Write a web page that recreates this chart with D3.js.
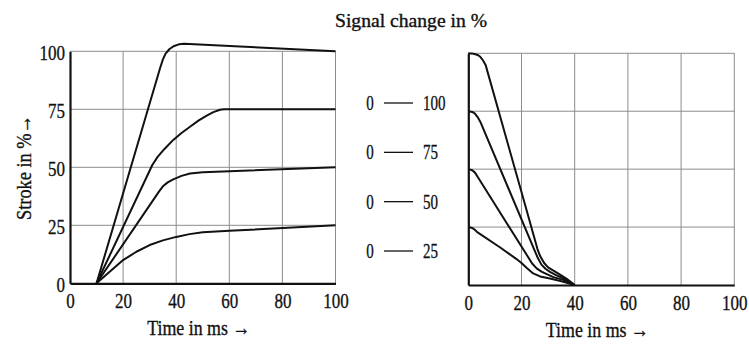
<!DOCTYPE html>
<html>
<head>
<meta charset="utf-8">
<script src="https://cdn.jsdelivr.net/npm/d3@7"></script>
<style>
  body { margin: 0; background: #fff; }
  svg text { font-family: "Liberation Serif", "DejaVu Serif", serif; fill: #111; stroke: #111; stroke-width: 0.35; }
  .grid line { stroke: #8c8c8c; stroke-width: 1; }
  .curve { fill: none; stroke: #111; stroke-width: 2; stroke-linejoin: round; }
  .axis path { stroke: #111; stroke-width: 2.2; }
</style>
</head>
<body>
<svg id="chart" width="749" height="344"></svg>
<script>
// tick values, same for both panels
var xTicks = [0, 20, 40, 60, 80, 100];
var yTicks = [0, 25, 50, 75, 100];

// stroke response (left panel): [time ms, stroke %]
var rise100 = [[10, 0], [34, 93], [35, 96.5], [36, 99], [37.5, 101], [39, 102.2], [41, 103], [43, 103.3], [64, 102.1], [100, 100]];
var rise75 = [[10, 0], [31, 51], [33, 54.5], [35.5, 57.8], [38.9, 61.8], [42, 64.8], [45.2, 67.5], [48.5, 70.2], [51.5, 72.3], [54, 73.8], [56.5, 74.8], [58, 75], [100, 75]];
var rise50 = [[10, 0], [33.5, 39.5], [35, 41.8], [36.8, 43.5], [38.9, 44.8], [42, 46.3], [45.2, 47.3], [50, 47.9], [55, 48.1], [100, 50]];
var rise25 = [[10, 0], [20, 10], [25, 13.6], [30, 16.5], [35, 18.5], [40, 20], [45, 21.2], [50, 22], [60, 22.6], [100, 25]];

// stroke response on signal drop (right panel)
var fall100 = [[0, 100], [2, 99.8], [3.5, 99.3], [4.5, 98.5], [5.5, 97], [6.5, 95], [21, 36], [26, 15.5], [27, 12.5], [28.5, 9.5], [30, 7.6], [32, 6.2], [34.5, 4.5], [37, 2.7], [40, 0]];
var fall75 = [[0, 75], [1.5, 74.7], [2.5, 74], [3.5, 72.5], [4.5, 70.5], [26, 12], [27.5, 8.8], [29, 7], [30.7, 5.7], [33, 4.3], [35.7, 2.9], [40, 0]];
var fall50 = [[0, 50], [1.5, 49.5], [2.5, 48.5], [3.5, 46.7], [24, 9.3], [25.7, 7.2], [27.5, 5.8], [29.5, 4.7], [32, 3.4], [35.7, 2.2], [40, 0]];
var fall25 = [[0, 25], [1.5, 24.6], [2.5, 23.8], [3.5, 22.7], [12, 16.2], [18, 11.3], [20, 9.5], [22, 7.3], [24.4, 5], [27, 3.7], [30.7, 2.8], [35, 1.6], [40, 0]];

// middle legend: signal change from -> to
var legendFrom = ["0", "0", "0", "0"];
var legendTo = ["100", "75", "50", "25"];

var svg = d3.select("#chart");

var digitW = 8.5;

function drawPanel(left, right, top, bottom, series, showYLabels) {
  var x = d3.scaleLinear().domain([0, 100]).range([left, right]);
  var y = d3.scaleLinear().domain([0, 100]).range([bottom, top]);

  var grid = svg.append("g").attr("class", "grid");
  grid.selectAll(".gx")
    .data(xTicks.slice(1))
    .enter()
    .append("line")
    .attr("x1", d => x(d)).attr("x2", d => x(d))
    .attr("y1", top).attr("y2", bottom);
  grid.selectAll(".gy")
    .data(yTicks.slice(1))
    .enter()
    .append("line")
    .attr("x1", left).attr("x2", right)
    .attr("y1", d => y(d)).attr("y2", d => y(d));

  var line = d3.line()
    .x(d => x(d[0]))
    .y(d => y(d[1]));

  svg.selectAll(null)
    .data(series)
    .enter()
    .append("path")
    .attr("class", "curve")
    .attr("d", line);

  var xAxis = svg.append("g")
    .attr("class", "axis")
    .attr("transform", "translate(0," + bottom + ")")
    .call(d3.axisBottom(x).tickValues(xTicks).tickSize(0).tickPadding(9));
  xAxis.selectAll("text")
    .attr("font-size", 22)
    .attr("textLength", d => String(d).length * digitW)
    .attr("lengthAdjust", "spacingAndGlyphs");

  var yAxis = svg.append("g")
    .attr("class", "axis")
    .attr("transform", "translate(" + left + ",0)")
    .call(d3.axisLeft(y).tickValues(showYLabels ? yTicks : []).tickSize(0).tickPadding(5));
  yAxis.selectAll("text")
    .attr("font-size", 22)
    .attr("dy", "0.38em")
    .attr("textLength", d => String(d).length * digitW)
    .attr("lengthAdjust", "spacingAndGlyphs");
  svg.selectAll(".axis .domain").attr("stroke", "#111");

  svg.append("text")
    .attr("x", (left + right) / 2 - 4)
    .attr("y", bottom + 52)
    .attr("text-anchor", "middle")
    .attr("font-size", 22)
    .attr("textLength", 103)
    .attr("lengthAdjust", "spacingAndGlyphs")
    .text("Time in ms \u2192");
}

drawPanel(70, 335.5, 51.3, 283.3, [rise100, rise75, rise50, rise25], true);
drawPanel(468.3, 734.3, 53.3, 285, [fall100, fall75, fall50, fall25], false);

// title
svg.append("text")
  .attr("x", 411)
  .attr("y", 27)
  .attr("text-anchor", "middle")
  .attr("font-size", 18)
  .attr("textLength", 152)
  .attr("lengthAdjust", "spacingAndGlyphs")
  .text("Signal change in %");

// y axis title
svg.append("text")
  .attr("transform", "translate(31,167.5) rotate(-90)")
  .attr("text-anchor", "middle")
  .attr("font-size", 22)
  .attr("textLength", 105)
  .attr("lengthAdjust", "spacingAndGlyphs")
  .text("Stroke in %\u2192");

// legend between panels
var legendY = d3.scalePoint().domain(legendTo).range([110, 258]);
var legend = svg.append("g");
legendTo.forEach(function (to, i) {
  var yy = legendY(to);
  legend.append("text")
    .attr("x", 370).attr("y", yy)
    .attr("text-anchor", "middle")
    .attr("font-size", 22)
    .attr("textLength", 7.5)
    .attr("lengthAdjust", "spacingAndGlyphs")
    .text(legendFrom[i]);
  legend.append("line")
    .attr("x1", 384).attr("x2", 413)
    .attr("y1", yy - 7).attr("y2", yy - 7)
    .attr("stroke", "#111").attr("stroke-width", 1.3);
  legend.append("text")
    .attr("x", 423).attr("y", yy)
    .attr("font-size", 22)
    .attr("textLength", to.length * 7.5)
    .attr("lengthAdjust", "spacingAndGlyphs")
    .text(to);
});
</script>
</body>
</html>
